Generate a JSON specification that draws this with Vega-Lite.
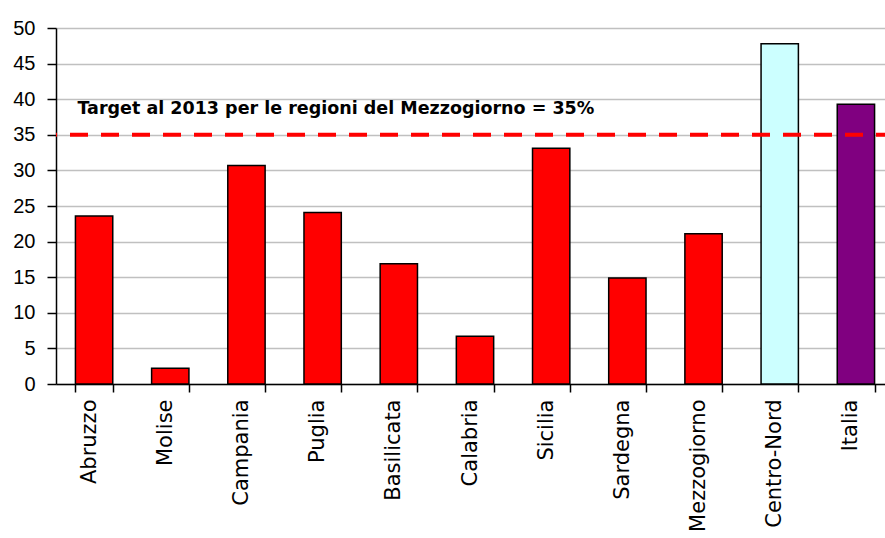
{
  "$schema": "https://vega.github.io/schema/vega-lite/v6.json",
  "width": 838,
  "height": 356,
  "autosize": {"type": "none"},
  "padding": {"left": 56, "top": 28, "right": 0, "bottom": 154},
  "background": "white",
  "config": {
    "view": {"stroke": null},
    "font": "Liberation Sans",
    "axisY": {
      "labelFontSize": 20,
      "labelColor": "black",
      "labelPadding": 12,
      "labelOverlap": false,
      "labelFlush": false,
      "tickSize": 9,
      "tickColor": "black",
      "tickWidth": 1.5,
      "domainColor": "black",
      "domainWidth": 1.5,
      "grid": true,
      "gridColor": "#c0c0c0",
      "gridWidth": 1.5,
      "title": null
    },
    "axisX": {
      "labelAngle": -90,
      "labelAlign": "right",
      "labelBaseline": "middle",
      "labelFont": "DejaVu Sans",
      "labelFontSize": 21,
      "labelColor": "black",
      "labelPadding": 7,
      "labelOffset": -5,
      "labelOverlap": false,
      "tickBand": "extent",
      "tickSize": 8,
      "tickColor": "black",
      "tickWidth": 1.5,
      "domainColor": "black",
      "domainWidth": 1.5,
      "grid": false,
      "title": null
    }
  },
  "datasets": {
    "bars": [
      {"regione": "Abruzzo", "valore": 23.6, "gruppo": "Sud"},
      {"regione": "Molise", "valore": 2.2, "gruppo": "Sud"},
      {"regione": "Campania", "valore": 30.7, "gruppo": "Sud"},
      {"regione": "Puglia", "valore": 24.1, "gruppo": "Sud"},
      {"regione": "Basilicata", "valore": 16.9, "gruppo": "Sud"},
      {"regione": "Calabria", "valore": 6.7, "gruppo": "Sud"},
      {"regione": "Sicilia", "valore": 33.1, "gruppo": "Sud"},
      {"regione": "Sardegna", "valore": 14.9, "gruppo": "Sud"},
      {"regione": "Mezzogiorno", "valore": 21.1, "gruppo": "Sud"},
      {"regione": "Centro-Nord", "valore": 47.8, "gruppo": "Centro-Nord"},
      {"regione": "Italia", "valore": 39.3, "gruppo": "Italia"}
    ],
    "target": [
      {"target": 35, "label": "Target al 2013 per le regioni del Mezzogiorno = 35%", "regione": "Abruzzo", "ylab": 38.6}
    ]
  },
  "layer": [
    {
      "data": {"name": "bars"},
      "mark": {"type": "bar", "stroke": "black", "strokeWidth": 1.5},
      "encoding": {
        "x": {
          "field": "regione",
          "type": "nominal",
          "sort": ["Abruzzo", "Molise", "Campania", "Puglia", "Basilicata", "Calabria", "Sicilia", "Sardegna", "Mezzogiorno", "Centro-Nord", "Italia"],
          "scale": {"paddingInner": 0.51, "paddingOuter": 0.255}
        },
        "y": {
          "field": "valore",
          "type": "quantitative",
          "scale": {"domain": [0, 50], "nice": false},
          "axis": {"values": [0, 5, 10, 15, 20, 25, 30, 35, 40, 45, 50]}
        },
        "color": {
          "field": "gruppo",
          "type": "nominal",
          "scale": {"domain": ["Sud", "Centro-Nord", "Italia"], "range": ["#ff0000", "#ccffff", "#800080"]},
          "legend": null
        }
      }
    },
    {
      "data": {"name": "target"},
      "mark": {"type": "rule", "color": "#ff0000", "strokeWidth": 4, "strokeDash": [18, 13]},
      "encoding": {
        "y": {"field": "target", "type": "quantitative", "axis": {"values": [0, 5, 10, 15, 20, 25, 30, 35, 40, 45, 50]}}
      }
    },
    {
      "data": {"name": "target"},
      "mark": {"type": "text", "align": "left", "baseline": "middle", "font": "DejaVu Sans", "fontWeight": "bold", "fontSize": 17.5, "color": "black", "dx": 2},
      "encoding": {
        "x": {"field": "regione", "type": "nominal", "bandPosition": 0, "sort": ["Abruzzo", "Molise", "Campania", "Puglia", "Basilicata", "Calabria", "Sicilia", "Sardegna", "Mezzogiorno", "Centro-Nord", "Italia"]},
        "y": {"field": "ylab", "type": "quantitative", "axis": {"values": [0, 5, 10, 15, 20, 25, 30, 35, 40, 45, 50]}},
        "text": {"field": "label"}
      }
    }
  ]
}
